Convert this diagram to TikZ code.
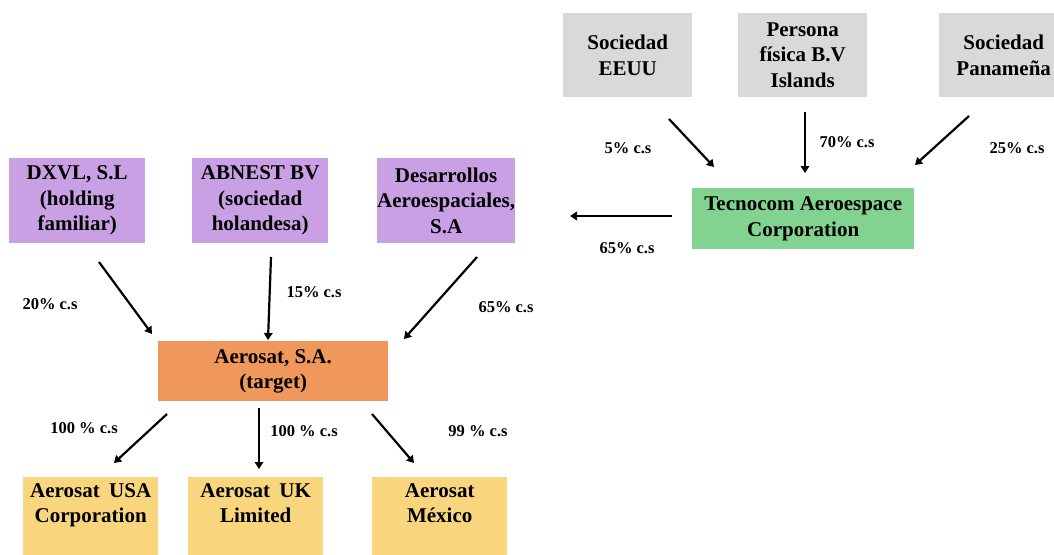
\documentclass[tikz,border=0pt]{standalone}
\usepackage{fontspec}
\setmainfont{Liberation Serif}
\usetikzlibrary{arrows.meta}
\definecolor{cgray}{RGB}{217,217,217}
\definecolor{cgreen}{RGB}{130,211,143}
\definecolor{cpurple}{RGB}{201,160,228}
\definecolor{corange}{RGB}{240,151,91}
\definecolor{cyellow}{RGB}{249,214,126}
\tikzset{
  box/.style={draw=none, inner sep=0pt, align=center, anchor=north west,
    font=\fontsize{21}{25.5}\selectfont\bfseries},
  graybox/.style={box, fill=cgray, minimum width=129pt, minimum height=84pt},
  purplebox/.style={box, fill=cpurple, minimum width=136pt, minimum height=85pt},
  yellowbox/.style={box, fill=cyellow, minimum width=135pt, minimum height=80pt},
  btext/.style={inner sep=0pt, align=center, font=\fontsize{21}{25.5}\selectfont\bfseries},
  lbl/.style={inner sep=0pt, font=\fontsize{16.5}{18}\selectfont\bfseries},
  arr/.style={line width=2.2pt, -{Triangle[length=7pt,width=8.5pt]}},
}
\begin{document}
\begin{tikzpicture}[x=1pt,y=-1pt]
\path[use as bounding box, clip] (0,0) rectangle (1054,554);
\fill[white] (0,0) rectangle (1054,554);
% top row (gray)
\node[graybox] (eeuu) at (563,13) {Sociedad\\EEUU};
\node[graybox] (persona) at (738,13) {Persona\\física B.V\\Islands};
\node[graybox] (panama) at (939,13) {Sociedad\\Panameña};
% Tecnocom
\node[box, fill=cgreen, minimum width=222pt, minimum height=61pt] (tecno) at (692,188) {Tecnocom Aeroespace\\Corporation};
% purple row
\node[purplebox] (dxvl) at (9,158) {DXVL, S.L\\(holding\\familiar)};
\node[purplebox] (abnest) at (192,158) {ABNEST BV\\(sociedad\\holandesa)};
\node[purplebox] (desa) at (377,158) {Desarrollos\\Aeroespaciales,\\S.A};
% target
\node[box, fill=corange, minimum width=230pt, minimum height=60pt] (aero) at (158,341) {Aerosat, S.A.\\(target)};
% bottom row
\node[yellowbox] (usa) at (23,477) {};
\node[yellowbox] (uk) at (188,477) {};
\node[yellowbox] (mex) at (372,477) {};
\node[btext, anchor=north] (usaT) at ([yshift=-6pt]usa.north) {Aerosat\hspace{0.45em}USA\\Corporation};
\node[btext, anchor=north] (ukT) at ([yshift=-6pt]uk.north) {Aerosat\hspace{0.45em}UK\\Limited};
\node[btext, anchor=north] (mexT) at ([yshift=-6pt]mex.north) {Aerosat\\México};
% arrow end points
\coordinate (a1s) at (669,119); \coordinate (a1e) at (714,167);
\coordinate (a2s) at (805,112); \coordinate (a2e) at (805,173);
\coordinate (a3s) at (969,116); \coordinate (a3e) at (915,165);
\coordinate (a4s) at (672,216); \coordinate (a4e) at (570,216);
\coordinate (b1s) at (99,262);  \coordinate (b1e) at (152,334);
\coordinate (b2s) at (271,257); \coordinate (b2e) at (268,340);
\coordinate (b3s) at (477,257); \coordinate (b3e) at (404,339);
\coordinate (c1s) at (167,414); \coordinate (c1e) at (114,463);
\coordinate (c2s) at (259,408); \coordinate (c2e) at (259,469);
\coordinate (c3s) at (372,414); \coordinate (c3e) at (414,463);
\draw[arr] (a1s) -- (a1e);
\draw[arr] (a2s) -- (a2e);
\draw[arr] (a3s) -- (a3e);
\draw[arr] (a4s) -- (a4e);
\draw[arr] (b1s) -- (b1e);
\draw[arr] (b2s) -- (b2e);
\draw[arr] (b3s) -- (b3e);
\draw[arr] (c1s) -- (c1e);
\draw[arr] (c2s) -- (c2e);
\draw[arr] (c3s) -- (c3e);
% labels
\node[lbl] (l1) at (628,148) {5\% c.s};
\node[lbl] (l2) at (847,142) {70\% c.s};
\node[lbl] (l3) at (1017,148) {25\% c.s};
\node[lbl] (l4) at (627,248) {65\% c.s};
\node[lbl] (l5) at (50,304) {20\% c.s};
\node[lbl] (l6) at (314,292) {15\% c.s};
\node[lbl] (l7) at (506,307) {65\% c.s};
\node[lbl] (l8) at (84,428) {100 \% c.s};
\node[lbl] (l9) at (304,431) {100 \% c.s};
\node[lbl] (l10) at (478,431) {99 \% c.s};
\end{tikzpicture}
\end{document}
